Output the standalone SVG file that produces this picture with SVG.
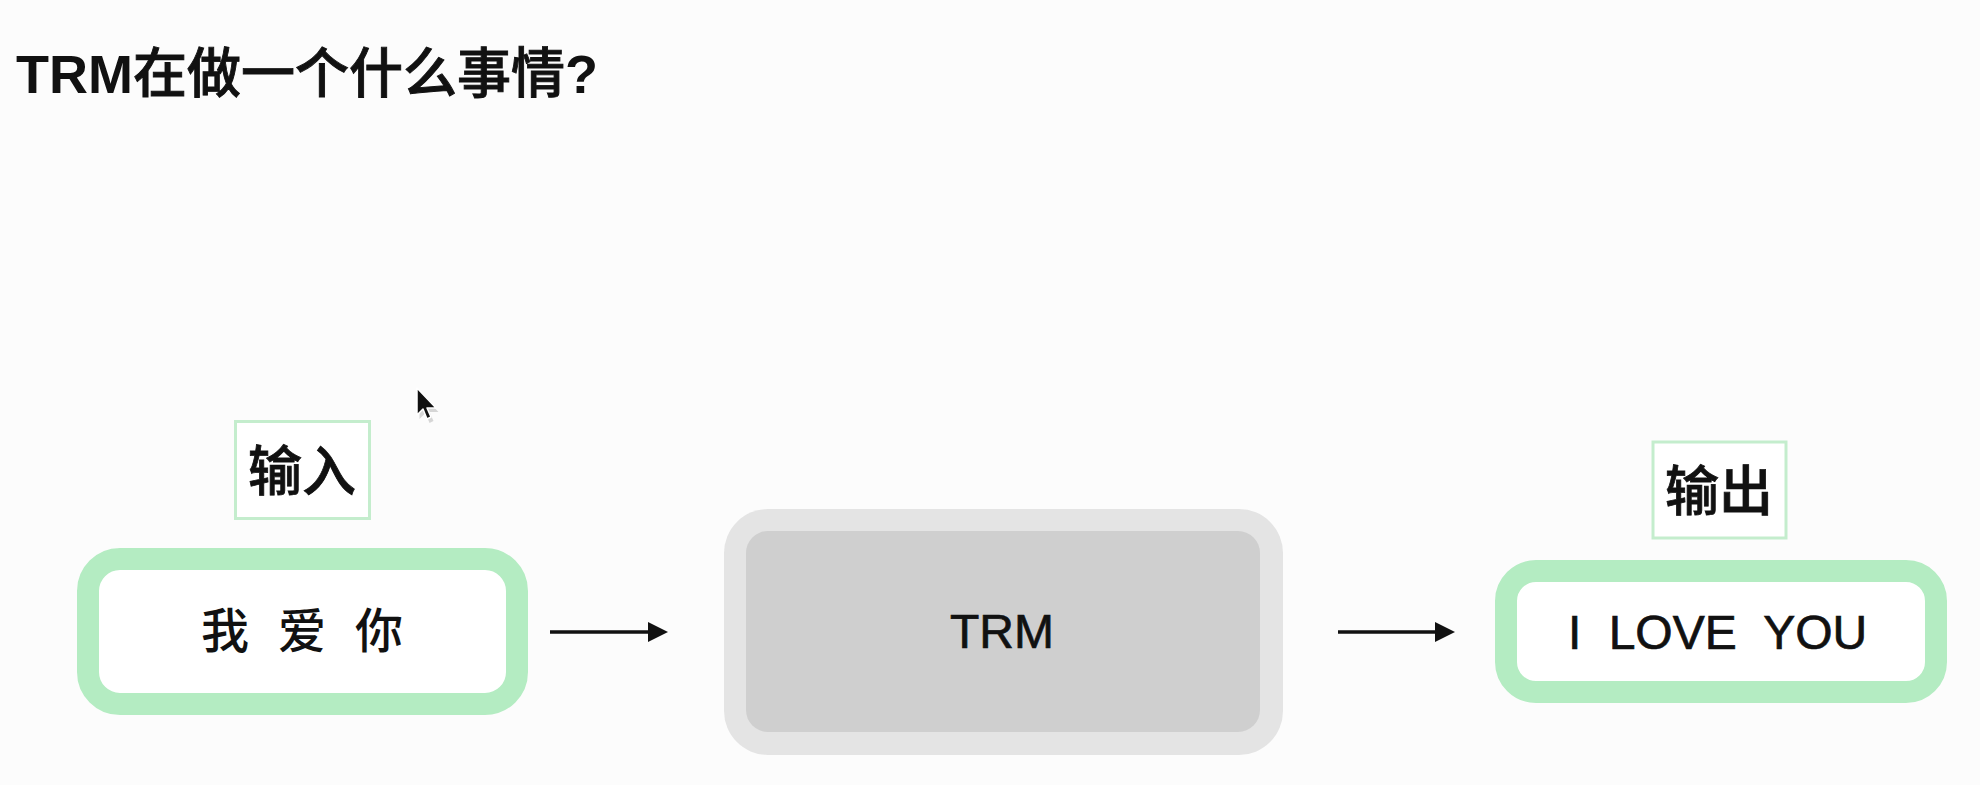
<svg xmlns="http://www.w3.org/2000/svg" width="1980" height="785" viewBox="0 0 1980 785">
  <style>
    .t { font-family: "Liberation Sans", "Noto Sans CJK SC", sans-serif; fill: #111; }
    .title { font-size: 54px; font-weight: 700; }
    .lbl { font-size: 54px; font-weight: 500; text-anchor: middle; stroke: #111; stroke-width: 0.8; }
    .med { stroke: #111; stroke-width: 0.7; }
    .io { fill: #ffffff; stroke: #b4ecc2; stroke-width: 22; }
    .tag { fill: #ffffff; stroke: #c4edcd; stroke-width: 3; }
    .conn { stroke: #111; stroke-width: 3.5; fill: none; }
  </style>
  <defs>
    <marker id="arrow" markerUnits="userSpaceOnUse" markerWidth="20" markerHeight="20" refX="2" refY="10" orient="auto">
      <path d="M0,0 L20,10 L0,20 z" fill="#111"/>
    </marker>
  </defs>
  <rect x="0" y="0" width="1980" height="785" fill="#fcfcfc"/>

  <text class="t title" x="16" y="93">TRM<tspan font-weight="500" stroke="#111" stroke-width="0.9">在做一个什么事情</tspan>?</text>

  <g id="label-input">
    <rect class="tag" x="235.5" y="421.5" width="134" height="97"/>
    <text class="t lbl" x="302" y="491">输入</text>
  </g>

  <g id="node-input">
    <rect class="io" x="88" y="559" width="429" height="145" rx="32" ry="32"/>
    <text class="t" font-size="48" font-weight="500"><tspan x="201" y="648">我</tspan> <tspan x="278" y="648">爱</tspan> <tspan x="355" y="648">你</tspan></text>
  </g>

  <g id="node-trm">
    <rect x="724" y="509" width="559" height="246" rx="44" ry="44" fill="#e4e4e4"/>
    <rect x="746" y="531" width="514" height="201" rx="22" ry="22" fill="#cfcfcf"/>
    <text class="t med" x="1002" y="648" font-size="48" text-anchor="middle">TRM</text>
  </g>

  <g id="label-output">
    <rect class="tag" x="1653" y="442" width="133" height="96"/>
    <text class="t lbl" x="1719" y="511">输出</text>
  </g>

  <g id="node-output">
    <rect class="io" x="1506" y="571" width="430" height="121" rx="30" ry="30"/>
    <text class="t med" x="1568" y="649" font-size="48" word-spacing="14">I LOVE YOU</text>
  </g>

  <g id="connectors">
    <line class="conn" x1="550" y1="632" x2="650" y2="632" marker-end="url(#arrow)"/>
    <line class="conn" x1="1338" y1="632" x2="1437" y2="632" marker-end="url(#arrow)"/>
  </g>

  <g id="cursor">
    <path d="M418,390 L418,417 L424,411 L428,421 L432,419 L428,410 L437,410 Z" fill="#000" opacity="0.15" transform="translate(1.5,2)"/>
    <path d="M417,388 L417,415 L423,409 L427,419 L431,417 L427,408 L436,408 Z" fill="#111" stroke="#ffffff" stroke-width="1.5" stroke-linejoin="round"/>
  </g>
</svg>
